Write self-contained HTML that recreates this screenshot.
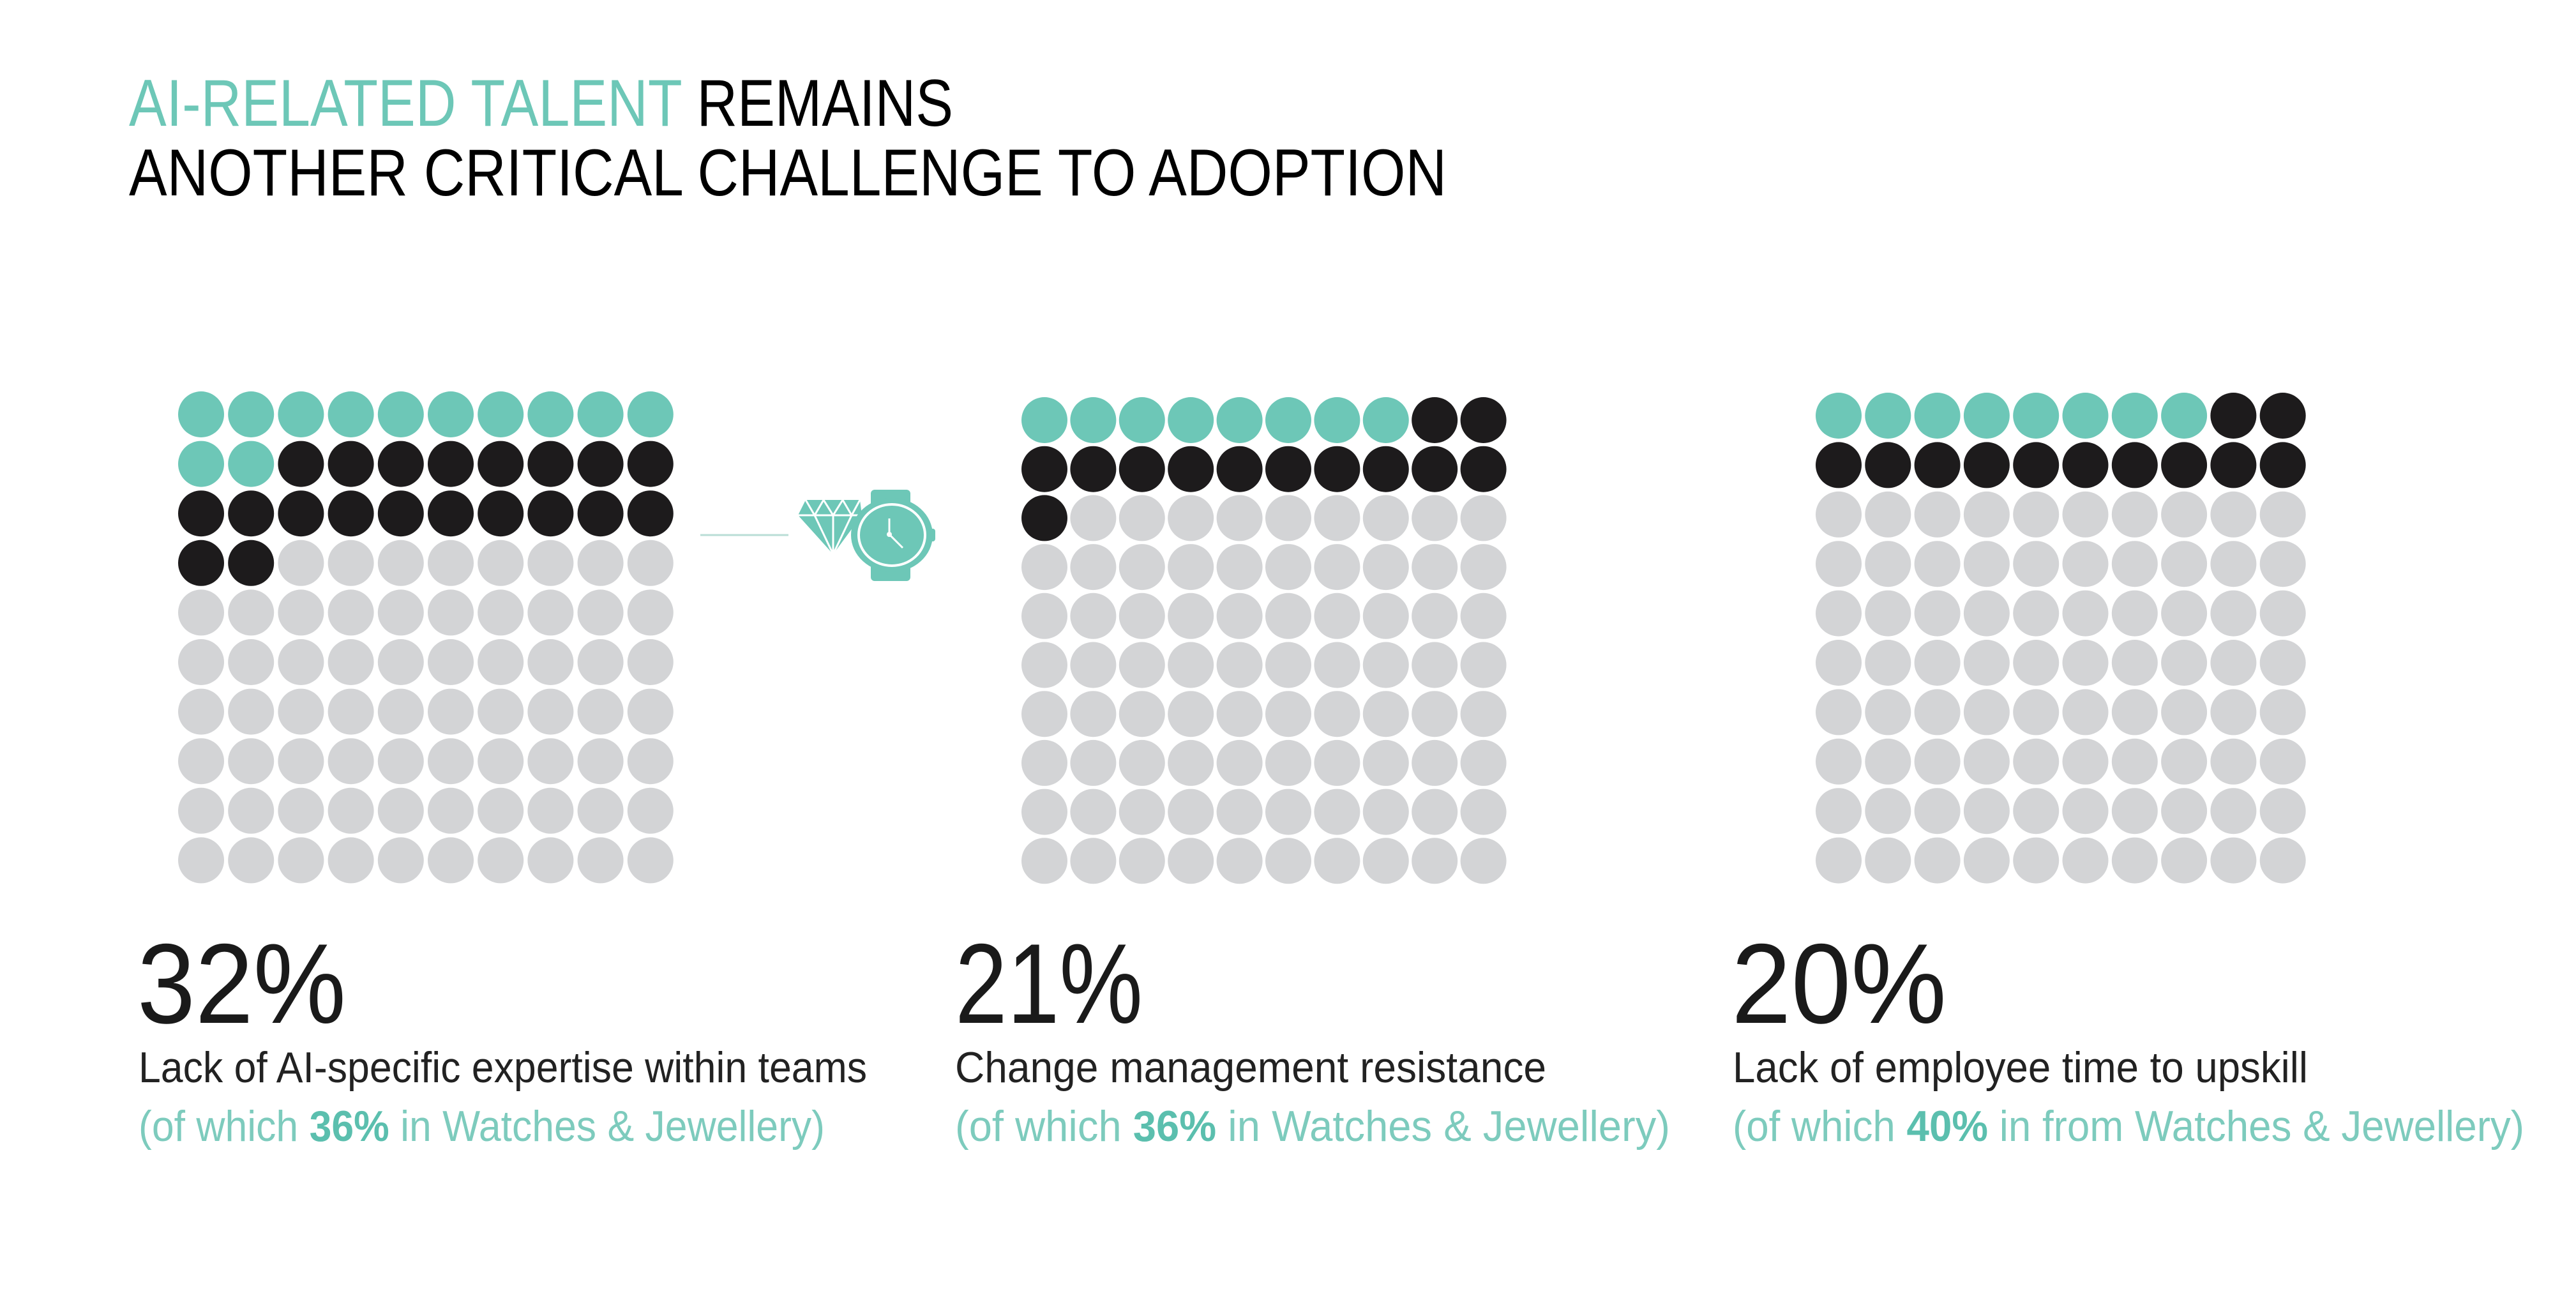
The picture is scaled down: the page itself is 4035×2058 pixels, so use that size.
<!DOCTYPE html>
<html><head><meta charset="utf-8"><style>
html,body{margin:0;padding:0;background:#fff;}
svg{display:block;}
</style></head><body>
<svg width="4035" height="2058" viewBox="0 0 4035 2058" xmlns="http://www.w3.org/2000/svg" font-family="'Liberation Sans', sans-serif">
<rect width="4035" height="2058" fill="#fff"/>
<text x="202" y="197" font-size="104" textLength="1291" lengthAdjust="spacingAndGlyphs"><tspan fill="#6dc7b7">AI-RELATED TALENT</tspan><tspan fill="#000"> REMAINS</tspan></text>
<text x="202" y="306" font-size="104" fill="#000" textLength="2064" lengthAdjust="spacingAndGlyphs">ANOTHER CRITICAL CHALLENGE TO ADOPTION</text>
<g id="grids"></g>
<line x1="1097" y1="838" x2="1235" y2="838" stroke="#b9ddd6" stroke-width="3"/>
<g fill="#6dc7b7" stroke="none">
<polygon points="1262,783 1347,783 1350,807 1305,868 1250,807"/>
</g>
<g stroke="#fff" stroke-width="3" fill="none">
<polyline points="1250,807 1350,807"/>
<polyline points="1262,783 1276,807 1290,783 1305,807 1320,783 1334,807 1347,783"/>
<polyline points="1276,807 1305,868 1334,807"/>
<line x1="1305" y1="807" x2="1305" y2="868"/>
</g>
<g fill="#6dc7b7">
<rect x="1364" y="767" width="62" height="143" rx="6"/>
<ellipse cx="1397" cy="838" rx="64" ry="58"/>
<rect x="1455" y="828" width="10" height="20" rx="4"/>
</g>
<ellipse cx="1397" cy="838" rx="52" ry="48" fill="none" stroke="#fff" stroke-width="4"/>
<polyline points="1393,812 1393,837 1414,858" fill="none" stroke="#fff" stroke-width="3"/>
<circle cx="1393" cy="837" r="4" fill="#fff"/>
<text x="215" y="1602" font-size="178" fill="#1a1a1a" textLength="327" lengthAdjust="spacingAndGlyphs">32%</text>
<text x="1496" y="1602" font-size="178" fill="#1a1a1a" textLength="294" lengthAdjust="spacingAndGlyphs">21%</text>
<text x="2712" y="1602" font-size="178" fill="#1a1a1a" textLength="337" lengthAdjust="spacingAndGlyphs">20%</text>
<text x="217" y="1695" font-size="68" fill="#222" textLength="1141" lengthAdjust="spacingAndGlyphs">Lack of AI-specific expertise within teams</text>
<text x="1496" y="1695" font-size="68" fill="#222" textLength="926" lengthAdjust="spacingAndGlyphs">Change management resistance</text>
<text x="2714" y="1695" font-size="68" fill="#222" textLength="901" lengthAdjust="spacingAndGlyphs">Lack of employee time to upskill</text>
<text x="217" y="1787" font-size="68" fill="#7dcbbd" textLength="1075" lengthAdjust="spacingAndGlyphs">(of which <tspan font-weight="bold" fill="#5bbfae">36%</tspan> in Watches &amp; Jewellery)</text>
<text x="1496" y="1787" font-size="68" fill="#7dcbbd" textLength="1120" lengthAdjust="spacingAndGlyphs">(of which <tspan font-weight="bold" fill="#5bbfae">36%</tspan> in Watches &amp; Jewellery)</text>
<text x="2714" y="1787" font-size="68" fill="#7dcbbd" textLength="1240" lengthAdjust="spacingAndGlyphs">(of which <tspan font-weight="bold" fill="#5bbfae">40%</tspan> in from Watches &amp; Jewellery)</text>
</svg>
<script>
(function(){
var g=document.getElementById('grids');var ns='http://www.w3.org/2000/svg';
var T='#6dc7b7',B='#1d1b1c',G='#d3d4d6';
function grid(x0,y0,px,py,rx,ry,teal,black){
 for(var r=0;r<10;r++)for(var c=0;c<10;c++){
  var i=r*10+c;var col=i<teal?T:(i<teal+black?B:G);
  var e=document.createElementNS(ns,'ellipse');
  e.setAttribute('cx',x0+c*px);e.setAttribute('cy',y0+r*py);
  e.setAttribute('rx',rx);e.setAttribute('ry',ry);e.setAttribute('fill',col);g.appendChild(e);
 }
}
grid(315,649,78.2,77.6,36,36,12,20);
grid(1636,658,76.4,76.7,36,36,8,13);
grid(2880,651,77.3,77.4,36,36,8,12);
})();
</script>
</body></html>
